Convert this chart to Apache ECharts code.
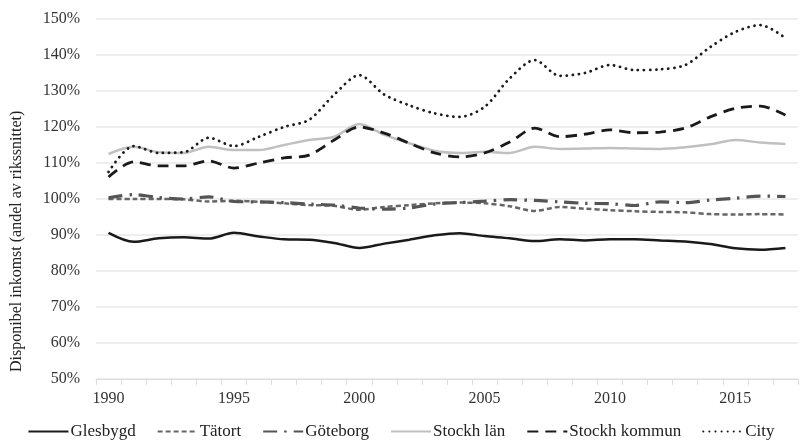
<!DOCTYPE html>
<html>
<head>
<meta charset="utf-8">
<script src="https://cdn.jsdelivr.net/npm/echarts@6/dist/echarts.min.js"></script>
<style>html,body{margin:0;padding:0;background:#fff}#c{width:802px;height:446px}</style>
</head>
<body>
<div id="c"></div>
<script>
var years = [];
for (var y = 1990; y <= 2017; y++) years.push(String(y));

var glesbygd = [90.6,88.1,89.1,89.4,89.0,90.6,89.6,88.8,88.7,87.8,86.4,87.6,88.7,89.9,90.5,89.7,89.1,88.3,88.8,88.5,88.8,88.8,88.5,88.2,87.5,86.3,85.9,86.4];
var tatort = [100.0,100.0,100.0,99.9,99.3,99.5,99.2,98.8,98.3,98.1,97.0,97.8,98.3,98.8,99.0,98.8,98.0,96.7,97.8,97.3,96.9,96.6,96.4,96.3,95.8,95.7,95.8,95.7];
var goteborg = [100.3,101.2,100.4,100.0,100.6,99.3,99.2,99.0,98.6,98.3,97.5,97.2,97.5,98.6,99.0,99.4,99.8,99.6,99.2,98.8,98.7,98.2,99.2,99.0,99.7,100.2,100.8,100.7];
var stockhLan = [112.5,114.5,113.0,112.8,114.5,113.6,113.6,115.0,116.4,117.3,120.8,117.8,115.5,113.4,112.8,113.1,112.8,114.5,113.9,114.0,114.2,114.0,113.9,114.4,115.2,116.4,115.7,115.3];
var stockhKommun = [106.1,110.3,109.2,109.2,110.6,108.6,110.0,111.4,112.2,116.4,120.0,118.3,115.5,112.8,111.7,112.8,115.8,119.7,117.3,118.0,119.2,118.4,118.6,119.7,122.8,125.2,125.8,123.3];
var city = [107.5,114.7,112.8,113.0,117.0,114.7,117.3,120.0,122.0,129.0,134.4,129.0,126.0,123.8,122.8,125.6,133.5,138.6,134.2,135.0,137.2,135.8,136.0,137.2,142.2,146.4,148.3,144.7];
var seriesNames = ['Glesbygd','Tätort','Göteborg','Stockh län','Stockh kommun','City'];
var yAxisTitle = 'Disponibel inkomst (andel av rikssnittet)';

var font = '"Liberation Serif", "DejaVu Serif", serif';
function mk(name, data, color, width, type, cap) {
  return {
    name: name, type: 'line', data: data, smooth: 0.3,
    symbol: 'none', showSymbol: false,
    lineStyle: { color: color, width: width, type: type, cap: cap || 'butt' },
    itemStyle: { color: color }
  };
}
var chart = echarts.init(document.getElementById('c'), null, { renderer: 'canvas' });
chart.setOption({
  animation: false,
  backgroundColor: '#fff',
  grid: { left: 96, right: 4, top: 19, bottom: 67, containLabel: false },
  legend: {
    bottom: 1, left: 'center',
    itemWidth: 40, itemHeight: 10, itemGap: 21,
    itemStyle: { opacity: 0 },
    textStyle: { fontFamily: font, fontSize: 17, color: '#222', padding: [0, 0, 0, -3] },
    data: seriesNames
  },
  graphic: [{
    type: 'text', rotation: Math.PI / 2,
    style: { text: yAxisTitle, font: '16px ' + font, fill: '#222' },
    position: [9, 372]
  }],
  xAxis: {
    type: 'category', data: years, boundaryGap: true,
    axisLine: { lineStyle: { color: '#d9dbe0', width: 1 } },
    axisTick: { show: true, interval: 0, length: 6, lineStyle: { color: '#d9dbe0' } },
    axisLabel: { interval: 4, color: '#333', fontFamily: font, fontSize: 16, margin: 12 }
  },
  yAxis: {
    type: 'value', min: 50, max: 150, interval: 10,
    axisLine: { show: false }, axisTick: { show: false },
    splitLine: { lineStyle: { color: '#e6e8ee', width: 1.5 } },
    axisLabel: { formatter: '{value}%', color: '#333', fontFamily: font, fontSize: 16, margin: 16 }
  },
  series: [
    mk('Glesbygd', glesbygd, '#1a1a1a', 2.5, 'solid'),
    mk('Tätort', tatort, '#666666', 2.5, [5, 3]),
    mk('Göteborg', goteborg, '#555555', 3.2, [14, 7, 2.5, 7]),
    mk('Stockh län', stockhLan, '#c0c0c0', 2.5, 'solid'),
    mk('Stockh kommun', stockhKommun, '#1a1a1a', 2.8, [11, 7]),
    mk('City', city, '#1a1a1a', 2.8, [0.1, 6], 'round')
  ]
});
</script>
</body>
</html>
